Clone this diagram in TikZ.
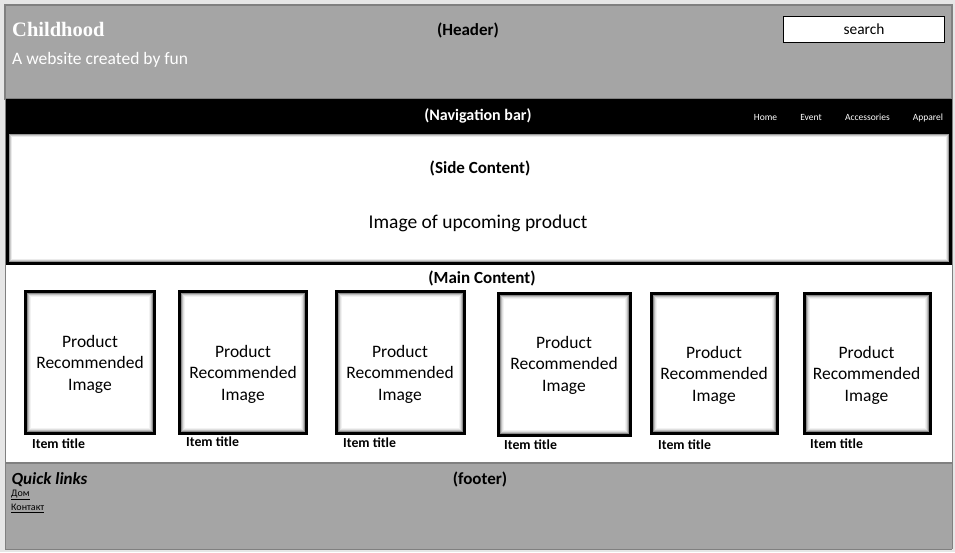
\documentclass[tikz,border=0pt]{standalone}
\usepackage{fontspec}
\setmainfont{Carlito}
\newfontfamily\serifhead{Liberation Serif}
\definecolor{pagebg}{RGB}{230,230,230}
\definecolor{bandgray}{RGB}{165,165,165}
\definecolor{edgegray}{RGB}{128,128,128}
\newcommand\shadowbox[4]{%
  \fill[white] (#1,#2) rectangle (#3,#4);
  \draw[black,line width=3pt] ({#1+1.5},{#2+1.5}) rectangle ({#3-1.5},{#4-1.5});
  \draw[black!45,line width=1pt] ({#1+3.5},{#2+3.5}) rectangle ({#3-3.5},{#4-3.5});
  \draw[black!25,line width=1pt] ({#1+4.5},{#2+4.5}) rectangle ({#3-4.5},{#4-4.5});
  \draw[black!12,line width=1pt] ({#1+5.5},{#2+5.5}) rectangle ({#3-5.5},{#4-5.5});
  \draw[black!5,line width=1pt] ({#1+6.5},{#2+6.5}) rectangle ({#3-6.5},{#4-6.5});
}
\tikzset{
  prodtext/.style={align=center,inner sep=0pt,font=\fontsize{17.5}{21.5}\selectfont},
  itemtitle/.style={anchor=west,inner sep=0pt,font=\fontsize{13.8}{16}\selectfont\bfseries},
  heading/.style={inner sep=0pt,font=\fontsize{17}{20}\selectfont\bfseries},
  navitem/.style={anchor=base,inner sep=0pt,text=white,font=\fontsize{9.5}{11}\selectfont},
  linkitem/.style={anchor=west,inner sep=0pt,font=\fontsize{10}{12}\selectfont},
}
\begin{document}
\begin{tikzpicture}[x=1pt,y=-1pt]
\useasboundingbox (0,0) rectangle (955,552);
% page background
\fill[pagebg] (0,0) rectangle (955,552);
% main white body
\fill[white] (5,5) rectangle (952,549);
% header
\fill[bandgray] (5,5) rectangle (952,99);
\draw[edgegray,line width=1.2pt] (5,5) rectangle (952,99);
% nav bar + side content black frame
\fill[black] (5,99) rectangle (952,265);
% side content inner
\fill[white] (8.5,134) rectangle (948.5,261.5);
\draw[black!40,line width=1pt] (9,134.5) rectangle (948,261);
\draw[black!20,line width=1pt] (10,135.5) rectangle (947,260);
\draw[black!8,line width=1pt] (11,136.5) rectangle (946,259);
% footer
\fill[bandgray] (5,463) rectangle (952,549);
\draw[edgegray,line width=1.2pt] (5,463) -- (952,463);
% page side borders
\draw[edgegray,line width=1pt] (5,5) -- (5,549);
\draw[edgegray,line width=1pt] (952,5) -- (952,549);
\draw[edgegray,line width=1pt] (5,549) -- (952,549);

% header texts
\node[anchor=west,inner sep=0pt,text=white,font=\serifhead\fontsize{20.5}{24}\selectfont\bfseries] (brand) at (12,29) {Childhood};
\node[anchor=west,inner sep=0pt,text=white,font=\fontsize{17.5}{20}\selectfont] (tagline) at (12,59.5) {A website created by fun};
\node[heading] (header) at (468,30) {(Header)};
\node[draw=black,fill=white,line width=1pt,minimum width=161pt,minimum height=26pt,inner sep=0pt,font=\fontsize{15.4}{18}\selectfont] (search) at (864,29) {search};

% navigation
\node[heading,text=white,font=\fontsize{16}{19}\selectfont\bfseries] (navbar) at (478,116) {(Navigation bar)};
\node[navitem] (home) at (765.5,120) {Home};
\node[navitem] (event) at (811,120) {Event};
\node[navitem] (acc) at (867.5,120) {Accessories};
\node[navitem] (app) at (928,120) {Apparel};

% side content
\node[heading] (side) at (480,168) {(Side Content)};
\node[inner sep=0pt,font=\fontsize{19.5}{23}\selectfont] (upcoming) at (478,223.5) {Image of upcoming product};

% main content
\node[heading] (main) at (482,278) {(Main Content)};

\shadowbox{24}{289.5}{155.5}{434.5}
\shadowbox{178}{289.5}{307.5}{434.5}
\shadowbox{335}{289.5}{466}{435}
\shadowbox{496.5}{292}{632}{436.5}
\shadowbox{649.5}{292}{778.5}{435}
\shadowbox{802.5}{292}{931.5}{435}

\node[prodtext] (p1) at (90,364) {Product\\Recommended\\Image};
\node[prodtext] (p2) at (243,374) {Product\\Recommended\\Image};
\node[prodtext] (p3) at (400,374) {Product\\Recommended\\Image};
\node[prodtext] (p4) at (564,365) {Product\\Recommended\\Image};
\node[prodtext] (p5) at (714,375) {Product\\Recommended\\Image};
\node[prodtext] (p6) at (866.5,375) {Product\\Recommended\\Image};

\node[itemtitle] (t1) at (32,444) {Item title};
\node[itemtitle] (t2) at (186,442) {Item title};
\node[itemtitle] (t3) at (343,443) {Item title};
\node[itemtitle] (t4) at (504,445) {Item title};
\node[itemtitle] (t5) at (658,445) {Item title};
\node[itemtitle] (t6) at (810,444) {Item title};

% footer
\node[anchor=west,inner sep=0pt,font=\fontsize{17}{20}\selectfont\bfseries\itshape] (quick) at (11.5,479.5) {Quick links};
\node[heading] (footer) at (480,479) {(footer)};
\node[linkitem] (dom) at (11,495) {\underline{Дом}};
\node[linkitem] (kontakt) at (11,508.5) {\underline{Контакт}};
\end{tikzpicture}
\end{document}
